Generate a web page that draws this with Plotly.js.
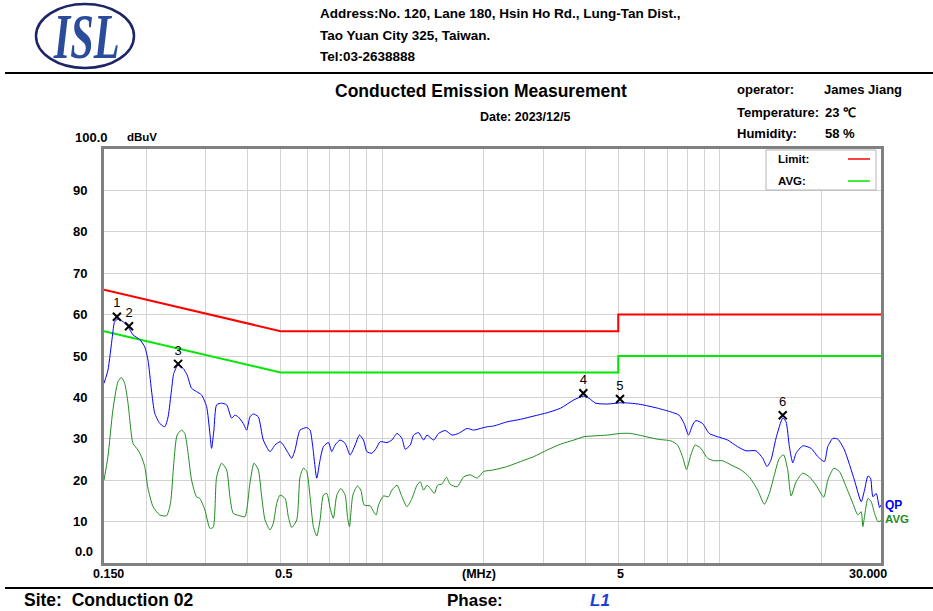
<!DOCTYPE html>
<html><head><meta charset="utf-8">
<script src="https://cdn.plot.ly/plotly-3.0.1.min.js"></script>
<style>html,body{margin:0;padding:0;background:#fff;} #chart{width:933px;height:611px;}</style>
</head><body><div id="chart"></div>
<script>
// ---- data (frequency in MHz, level in dBuV) ----
const QP_FREQ = [0.150,0.1541,0.1588,0.1613,0.1650,0.1707,0.1767,0.1828,0.1913,0.1980,0.2025,0.2073,0.2120,0.2194,0.2270,0.2322,0.2377,0.2414,0.2486,0.2573,0.2644,0.2725,0.2819,0.2917,0.3019,0.3088,0.3124,0.3174,0.3233,0.3344,0.3461,0.3581,0.3663,0.3746,0.3877,0.3968,0.4058,0.4151,0.4296,0.4445,0.4653,0.4814,0.4983,0.5097,0.5272,0.5395,0.5518,0.5710,0.5977,0.6114,0.6228,0.6400,0.6546,0.6696,0.6929,0.7090,0.7252,0.7504,0.7767,0.8035,0.8315,0.8561,0.8800,0.9007,0.9320,0.9598,0.9864,1.033,1.068,1.106,1.144,1.170,1.211,1.239,1.281,1.326,1.357,1.420,1.469,1.538,1.610,1.684,1.784,1.866,1.953,2.045,2.140,2.344,2.567,2.812,3.082,3.375,3.695,3.940,4.095,4.286,4.642,5.085,5.444,5.830,6.535,7.153,7.571,7.836,8.075,8.299,8.489,8.887,9.295,9.844,10.54,11.28,11.95,12.79,13.39,13.79,14.17,14.66,15.35,15.70,16.06,16.44,16.81,17.60,18.62,19.50,20.39,20.87,21.60,22.36,23.38,25.03,26.21,26.81,27.44,27.93,28.39,29.04,29.70,30.0];
const QP_DB = [43.4,46.6,54.7,58.3,58.9,58.3,57.1,55.1,54.0,52.2,49.0,41.8,36.2,33.7,32.9,35.3,41.8,45.8,47.8,47.0,45.4,42.2,41.4,40.6,37.8,31.3,27.7,32.1,38.2,38.6,38.2,35.0,35.7,35.3,33.7,32.1,35.3,36.0,35.3,29.7,26.9,28.5,29.3,28.5,26.5,25.3,27.3,32.1,32.7,32.1,28.1,20.5,24.9,28.1,29.1,26.9,28.5,29.7,28.9,26.1,28.5,30.9,29.7,26.9,26.5,27.7,29.3,29.1,29.7,31.3,30.1,27.5,28.5,30.9,31.5,29.7,30.9,29.7,31.3,32.0,30.9,31.3,32.5,32.1,32.5,32.9,33.1,34.1,34.7,35.5,36.3,37.4,39.4,40.3,39.8,38.6,38.4,38.7,38.6,38.3,37.4,36.5,35.7,33.7,30.9,33.3,34.4,33.7,31.3,30.5,29.7,28.1,27.1,27.1,25.3,23.3,24.9,30.1,35.0,34.1,28.1,24.2,26.5,28.3,27.7,25.7,24.5,28.1,30.1,29.9,27.3,20.0,14.8,17.6,21.0,20.5,16.0,16.8,13.4,14.0];
const AVG_FREQ = [0.150,0.1541,0.1594,0.1650,0.1689,0.1727,0.1767,0.1828,0.1891,0.1936,0.1980,0.2025,0.2096,0.2194,0.2297,0.2360,0.2414,0.2469,0.2544,0.2602,0.2662,0.2725,0.2819,0.2884,0.2985,0.3088,0.3158,0.3233,0.3344,0.3461,0.3540,0.3621,0.3790,0.3922,0.4058,0.4171,0.4296,0.4396,0.4497,0.4653,0.4758,0.4870,0.4983,0.5156,0.5272,0.5395,0.5583,0.5710,0.5842,0.5977,0.6114,0.6253,0.6400,0.6546,0.6696,0.6853,0.7012,0.7168,0.7337,0.7543,0.7767,0.7889,0.7998,0.8186,0.8447,0.8644,0.8841,0.9213,0.9423,0.9598,0.9750,1.009,1.044,1.068,1.106,1.144,1.184,1.225,1.268,1.297,1.326,1.357,1.388,1.427,1.459,1.504,1.549,1.591,1.666,1.743,1.824,1.910,1.998,2.140,2.344,2.567,2.812,3.082,3.375,3.695,3.957,4.236,4.642,5.085,5.444,5.830,6.535,7.153,7.489,7.750,7.965,8.203,8.448,8.784,9.194,9.618,10.19,10.78,11.54,12.22,12.94,13.54,14.01,14.50,15.00,15.45,15.88,16.25,16.81,17.60,18.41,19.27,20.31,20.87,21.75,22.59,23.65,24.76,25.62,26.21,26.51,26.81,27.44,28.06,28.71,29.38,30.0];
const AVG_DB = [20.0,25.7,37.0,43.8,44.8,43.4,38.6,28.9,27.3,25.7,23.3,18.0,13.6,11.6,11.4,14.4,24.1,30.9,32.1,31.3,26.5,20.0,16.0,15.6,12.8,8.4,8.6,20.8,24.1,22.5,16.0,12.0,11.4,11.2,19.3,24.1,22.5,16.0,10.4,8.0,9.6,14.4,16.4,15.6,11.2,8.6,10.4,20.8,22.9,22.1,16.0,8.8,6.5,10.4,16.4,16.8,13.2,10.8,16.4,18.0,16.4,11.2,8.8,16.4,18.6,17.6,14.0,13.8,12.4,11.6,14.0,16.2,16.0,17.6,18.8,16.0,13.6,15.6,18.8,19.6,17.6,18.8,18.0,16.8,18.8,19.1,20.7,19.0,18.4,20.8,21.3,20.5,22.1,22.5,23.3,24.5,25.7,27.3,28.7,29.7,30.5,30.7,30.9,31.3,31.3,30.8,29.9,29.5,28.5,25.7,22.6,26.1,28.5,27.7,25.3,24.7,24.7,23.7,22.5,20.8,17.6,14.2,16.8,21.3,25.3,26.1,22.5,16.2,19.6,21.7,20.8,18.8,15.9,20.0,22.9,22.1,18.4,14.4,11.6,12.4,8.8,11.2,15.6,14.8,12.0,10.0,10.2];
const LIMIT_FREQ = [0.15, 0.5, 5, 5, 30];
const LIMIT_QP_DB = [66, 56, 56, 60, 60];
const LIMIT_AVG_DB = [56, 46, 46, 50, 50];
const MARKER_FREQ = [0.1638, 0.1779, 0.2486, 3.94, 5.06, 15.35];
const MARKER_DB = [59.5, 57.2, 48.1, 41.0, 39.6, 35.7];
const MARKER_LABELS = ['1','2','3','4','5','6'];
const GRID_FREQ = [0.2,0.3,0.4,0.5,0.6,0.7,0.8,0.9,1,2,3,4,5,6,7,8,9,10,20];
const Y_TICKS = [10,20,30,40,50,60,70,80,90];
const Y_TICK_TEXT = ['10','20','30','40','50','60','70','80','90'];
const X_LABEL_FREQ = [0.15, 0.5, 1.93, 5, 30];
const X_LABEL_TEXT = ['0.150', '0.5', '(MHz)', '5', '30.000'];
const X_LABEL_SHIFT = [4, 3, 0, 2, -13];

// ---- layout helpers (pixel -> paper) ----
const L = 104, T = 149, W = 777, H = 414;
const ax = px => (px - L) / W;
const ay = py => (T + H - py) / H;
const SANS = 'Liberation Sans, Arial, sans-serif';
const NARROW = 'Liberation Sans Narrow, Arial Narrow, Liberation Sans, sans-serif';
function txt(text, px, py, size, opts) {
  opts = opts || {};
  return {xref:'paper', yref:'paper', x:ax(px), y:ay(py), text:text, showarrow:false,
    xanchor:opts.anchor || 'left', yanchor:'middle',
    font:{family:opts.family || SANS, size:size, color:opts.color || '#000', weight:opts.weight || 700, style:opts.style || 'normal'}};
}

const traces = [
  {x:LIMIT_FREQ, y:LIMIT_QP_DB, mode:'lines', line:{color:'#ff0000', width:2}, hoverinfo:'skip'},
  {x:LIMIT_FREQ, y:LIMIT_AVG_DB, mode:'lines', line:{color:'#00e800', width:2}, hoverinfo:'skip'},
  {x:AVG_FREQ, y:AVG_DB, mode:'lines', line:{color:'#1f8c1f', width:1, shape:'spline', smoothing:0.6}},
  {x:QP_FREQ, y:QP_DB, mode:'lines', line:{color:'#0000ff', width:1, shape:'spline', smoothing:0.6}},
  {x:MARKER_FREQ, y:MARKER_DB, mode:'markers+text', text:MARKER_LABELS, textposition:'top center',
   textfont:{family:SANS, size:13, color:'#000'},
   marker:{symbol:'x-thin', size:8, color:'#000', line:{width:2, color:'#000'}}}
];

const annotations = [
  // header
  {xref:'paper', yref:'paper', x:ax(86), y:ay(37), text:'ISL', showarrow:false, xanchor:'center', yanchor:'middle',
   font:{family:'Liberation Serif, Times New Roman, serif', size:46, color:'#2b4c9b', weight:700, style:'italic'}},
  txt('Address:No. 120, Lane 180, Hsin Ho Rd., Lung-Tan Dist.,', 318, 13, 13.5, {family:NARROW}),
  txt('Tao Yuan City 325, Taiwan.', 318, 35, 13.5, {family:NARROW}),
  txt('Tel:03-2638888', 318, 57, 13.5, {family:NARROW}),
  txt('Conducted Emission Measurement', 481, 91, 17.5, {anchor:'center'}),
  txt('Date: 2023/12/5', 478, 117, 12.5),
  txt('operator:', 735, 89, 13), txt('James Jiang', 822, 89, 13),
  txt('Temperature:', 735, 112, 13), txt('23 ℃', 823, 112, 13),
  txt('Humidity:', 735, 133, 13), txt('58 %', 823, 133, 13),
  // axis captions
  txt('100.0', 73, 137, 13, {}),
  txt('dBuV', 125, 137, 11.5),
  txt('0.0', 73, 551, 13, {}),
  // legend box
  txt('Limit:', 776, 159, 11.5),
  txt('AVG:', 776, 181, 11.5),
  // trace end labels
  {xref:'paper', yref:'y', x:1, y:14.0, xanchor:'left', yanchor:'middle', xshift:2, showarrow:false, text:'QP',
   font:{family:SANS, size:12, color:'#0000ff', weight:700}},
  {xref:'paper', yref:'y', x:1, y:10.6, xanchor:'left', yanchor:'middle', xshift:2, showarrow:false, text:'AVG',
   font:{family:SANS, size:11.5, color:'#1f8c1f', weight:700}},
  // footer
  txt('Site:  Conduction 02', 22, 600, 17.5),
  txt('Phase:', 445, 600, 17),
  txt('L1', 588, 600, 17, {color:'#1a3fd6', style:'italic'})
];
X_LABEL_FREQ.forEach((f, i) => {
  annotations.push({xref:'x', yref:'paper', x:Math.log10(f), y:ay(574), xanchor:'center', yanchor:'middle',
    xshift:X_LABEL_SHIFT[i], showarrow:false, text:X_LABEL_TEXT[i],
    font:{family:SANS, size:12.5, color:'#000', weight:700}});
});

const shapes = [
  {type:'circle', xref:'paper', yref:'paper', x0:ax(36), x1:ax(134), y0:ay(4), y1:ay(68), line:{color:'#1d2566', width:2.5}},
  {type:'line', xref:'paper', yref:'paper', x0:ax(5), x1:ax(933), y0:ay(73), y1:ay(73), line:{color:'#000', width:2}},
  {type:'line', xref:'paper', yref:'paper', x0:ax(5), x1:ax(933), y0:ay(588), y1:ay(588), line:{color:'#000', width:2}},
  {type:'rect', xref:'paper', yref:'paper', x0:ax(766), x1:ax(876), y0:ay(190), y1:ay(150), fillcolor:'#fff', line:{color:'#b4b4b4', width:1}},
  {type:'line', xref:'paper', yref:'paper', x0:ax(848), x1:ax(870), y0:ay(159), y1:ay(159), line:{color:'#ff0000', width:1.5}},
  {type:'line', xref:'paper', yref:'paper', x0:ax(848), x1:ax(870), y0:ay(181), y1:ay(181), line:{color:'#00e800', width:1.5}}
];

const layout = {
  width:933, height:611, margin:{l:L, r:933-L-W, t:T, b:611-T-H, pad:0},
  paper_bgcolor:'#fff', plot_bgcolor:'#fff', showlegend:false,
  xaxis:{type:'log', range:[Math.log10(0.15), Math.log10(30)], tickvals:GRID_FREQ, showticklabels:false, ticks:'',
    showgrid:true, gridcolor:'#d2d2d2', gridwidth:1, showline:true, mirror:true, linecolor:'#808080', linewidth:3, zeroline:false},
  yaxis:{range:[0,100], tickvals:Y_TICKS, ticktext:Y_TICK_TEXT, ticks:'', ticklabelstandoff:11,
    tickfont:{family:SANS, size:13, color:'#000', weight:700},
    showgrid:true, gridcolor:'#d2d2d2', gridwidth:1, showline:true, mirror:true, linecolor:'#808080', linewidth:3, zeroline:false},
  annotations:annotations, shapes:shapes
};

Plotly.newPlot('chart', traces, layout, {staticPlot:true}).then(gd => {
  // stretch the logo lettering vertically like the original emblem
  const ann = gd.querySelectorAll('.annotation')[0];
  if (ann) {
    const t = ann.querySelector('text');
    if (t) {
      const b = t.getBBox();
      const cx = b.x + b.width / 2, cy = b.y + b.height / 2;
      t.setAttribute('transform', `translate(${cx},${cy}) scale(0.92,1.4) translate(${-cx},${-cy})`);
    }
  }
});
</script></body></html>
